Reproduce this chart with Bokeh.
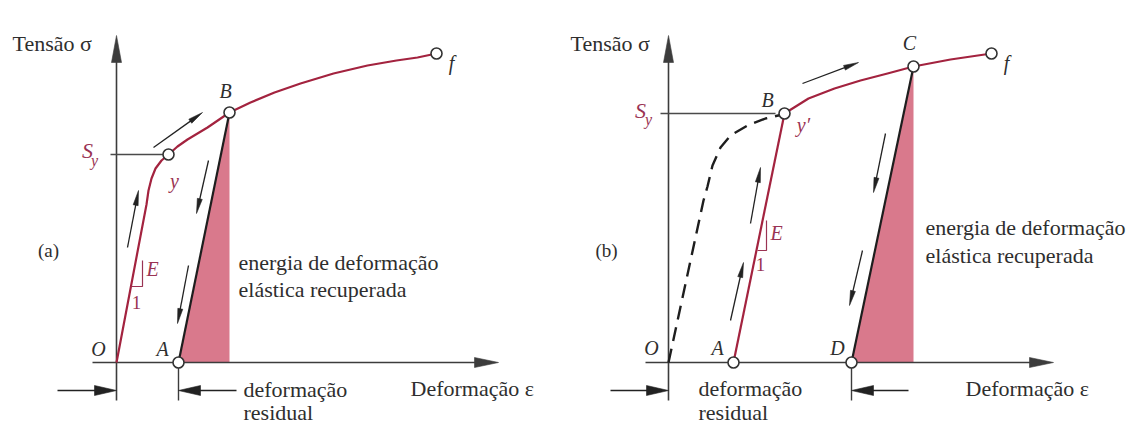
import math
from bokeh.plotting import figure
from bokeh.layouts import row
from bokeh.models import Range1d
from bokeh.core.properties import value
from bokeh.embed import file_html
from bokeh.resources import INLINE

# ---------------------------------------------------------------
# Panel (a): loading O -> y -> B, unloading B -> A
# strain / stress in arbitrary schematic units
# ---------------------------------------------------------------
a_curve_eps = [0.0, 3.0, 3.2, 3.5, 3.9, 4.5, 5.2, 6.1, 7.1, 9.1, 11.3, 13.4, 15.8, 18.4, 21.7, 25.1, 28.0, 30.1, 32.0]
a_curve_sig = [0.0, 15.8, 17.2, 18.4, 19.4, 20.2, 20.8, 21.6, 22.3, 23.5, 25.0, 26.0, 27.0, 27.9, 28.9, 29.7, 30.2, 30.5, 30.9]
a_unload_eps = [11.3, 6.2]          # B -> A
a_unload_sig = [25.0, 0.0]
a_marks_eps = [5.2, 11.3, 32.0, 6.2]  # y, B, f, A
a_marks_sig = [20.8, 25.0, 30.9, 0.0]
a_sy = 20.8
a_residual = 6.2

# ---------------------------------------------------------------
# Panel (b): reloading A -> B(y') -> C, unloading C -> D
# ---------------------------------------------------------------
b_first_eps = [0.0, 3.5, 3.9, 4.4, 5.2, 6.2, 7.9, 9.7, 11.4]   # original loading (dashed)
b_first_sig = [0.0, 16.2, 17.6, 19.7, 21.5, 22.7, 23.7, 24.4, 24.8]
b_reload_eps = [6.5, 11.6]
b_reload_sig = [0.0, 24.9]
b_curve_eps = [11.6, 14.0, 16.6, 19.2, 21.9, 24.5, 28.2, 32.3]
b_curve_sig = [24.9, 26.4, 27.4, 28.2, 28.9, 29.6, 30.3, 30.9]
b_unload_eps = [24.5, 18.3]          # C -> D
b_unload_sig = [29.6, 0.0]
b_marks_eps = [6.5, 11.6, 24.5, 32.3, 18.3]  # A, B, C, f, D
b_marks_sig = [0.0, 24.9, 29.6, 30.9, 0.0]
b_sy = 24.9
b_residual_start = 0.0
b_residual_end = 18.3

U = 10.0  # screen pixels per schematic unit
SERIF = '"Liberation Serif", "Times New Roman", Times, serif'
INK = "#2e2e2e"
AXIS = "#3c3c3c"
CURVE = "#a3233f"
FILL = "#d9798c"
LABEL_RED = "#9a3353"


def make_panel(x_start, width):
    p = figure(width=width, height=425,
               x_range=Range1d(x_start, x_start + width / U),
               y_range=Range1d(-6.3, 36.2),
               output_backend="svg", toolbar_location=None,
               min_border=0, x_axis_type=None, y_axis_type=None)
    p.grid.visible = False
    p.outline_line_color = None
    p.background_fill_color = "white"
    p.border_fill_color = "white"
    return p


def add_arrows(p, segs, head_len, head_w, lw, color):
    """segs: list of (x0, y0, x1, y1); head is drawn at (x1, y1)."""
    sx0, sy0, sx1, sy1, hx, hy = [], [], [], [], [], []
    L, W = head_len / U, head_w / U
    for x0, y0, x1, y1 in segs:
        dx, dy = x1 - x0, y1 - y0
        n = math.hypot(dx, dy)
        ux, uy = dx / n, dy / n
        bx, by = x1 - ux * L, y1 - uy * L
        sx0.append(x0); sy0.append(y0)
        sx1.append(bx + ux * L * 0.3); sy1.append(by + uy * L * 0.3)
        hx.append([x1, bx - uy * W / 2, bx + uy * W / 2])
        hy.append([y1, by + ux * W / 2, by - ux * W / 2])
    p.segment(sx0, sy0, sx1, sy1, line_color=color, line_width=lw)
    p.patches(hx, hy, fill_color=color, line_color=color, line_width=0.6)


def add_text(p, xs, ys, texts, size, color=INK, italic=False, align="left"):
    p.text(xs, ys, text=texts, text_font=value(SERIF), text_font_size=size,
           text_color=color, text_align=align, text_baseline="middle",
           text_font_style="italic" if italic else "normal")


def draw_axes(p, x_min, x_max, y_top, ticks):
    # horizontal strain axis and vertical stress axis with arrow heads
    add_arrows(p, [(x_min, 0.0, x_max, 0.0)], 24, 10, 1.6, AXIS)
    add_arrows(p, [(0.0, -3.8, 0.0, y_top)], 27, 10, 1.6, AXIS)
    # extension lines below the strain axis
    p.segment(list(ticks), [0.0] * len(ticks), list(ticks), [-3.8] * len(ticks),
              line_color=AXIS, line_width=1.4)


# ------------------------- panel (a) -------------------------
pa = make_panel(-11.6, 566)
pa.patch([a_unload_eps[1], a_unload_eps[0], a_unload_eps[0]],
         [0.0, a_unload_sig[0], 0.0], fill_color=FILL, line_color=None)
draw_axes(pa, -2.4, 38.2, 32.7, [a_residual])
pa.line([-0.6, a_marks_eps[0] - 0.5], [a_sy, a_sy], line_color="#4a4a4a", line_width=1.6)
pa.line(a_curve_eps, a_curve_sig, line_color=CURVE, line_width=2.2, line_join="round")
pa.line(a_unload_eps, a_unload_sig, line_color="#1e1e1e", line_width=2.2)
pa.line([1.5, 2.6, 2.6], [7.6, 7.6, 10.2], line_color=LABEL_RED, line_width=1.2)
add_arrows(pa, [(1.1, 11.5, 2.2, 17.2), (3.7, 21.5, 8.6, 25.0),
                (9.2, 20.2, 8.0, 14.9), (7.2, 9.7, 6.1, 3.9)], 15, 5, 1.3, "#222222")
add_arrows(pa, [(-5.9, -2.8, 0.0, -2.8), (12.0, -2.8, a_residual, -2.8)], 22, 10, 1.6, "#222222")
pa.scatter(a_marks_eps, a_marks_sig, size=11, fill_color="white", line_color="#333333", line_width=1.6)

add_text(pa, [-10.4], [31.9], ["Tensão σ"], "22px")
add_text(pa, [12.2, 12.2], [10.0, 7.3], ["energia de deformação", "elástica recuperada"], "22px")
add_text(pa, [12.7, 12.7], [-2.7, -5.0], ["deformação", "residual"], "22px")
add_text(pa, [29.4], [-2.6], ["Deformação ε"], "22px")
add_text(pa, [10.9, 33.5, -1.8, 4.6], [27.2, 30.0, 1.4, 1.4], ["B", "f", "O", "A"], "20px",
         italic=True, align="center")
add_text(pa, [-6.8], [11.2], ["(a)"], "19px", align="center")
add_text(pa, [5.8, 3.6], [18.2, 9.4], ["y", "E"], "20px", color=LABEL_RED, italic=True, align="center")
add_text(pa, [2.0], [6.0], ["1"], "19px", color=LABEL_RED, align="center")
add_text(pa, [-2.9], [21.2], ["S"], "22px", color=LABEL_RED, italic=True, align="center")
add_text(pa, [-2.2], [20.2], ["y"], "16px", color=LABEL_RED, italic=True, align="center")

# ------------------------- panel (b) -------------------------
pb = make_panel(-10.2, 567)
pb.patch([b_unload_eps[1], b_unload_eps[0], b_unload_eps[0]],
         [0.0, b_unload_sig[0], 0.0], fill_color=FILL, line_color=None)
draw_axes(pb, -2.3, 38.5, 32.7, [b_residual_end])
pb.line([-0.8, b_reload_eps[1] - 0.9], [b_sy, b_sy], line_color="#4a4a4a", line_width=1.6)
pb.line(b_first_eps, b_first_sig, line_color="#1e1e1e", line_width=2.4, line_dash="14 8")
pb.line(b_reload_eps, b_reload_sig, line_color=CURVE, line_width=2.2)
pb.line(b_curve_eps, b_curve_sig, line_color=CURVE, line_width=2.2, line_join="round")
pb.line(b_unload_eps, b_unload_sig, line_color="#1e1e1e", line_width=2.2)
pb.line([8.9, 9.8, 9.8], [11.2, 11.2, 14.2], line_color=LABEL_RED, line_width=1.2)
add_arrows(pb, [(6.2, 4.2, 7.5, 10.0), (8.2, 13.9, 9.2, 19.5), (13.4, 27.9, 19.0, 30.0),
                (21.7, 22.9, 20.5, 17.0), (19.4, 11.2, 18.1, 5.7)], 15, 5, 1.3, "#222222")
add_arrows(pb, [(-5.8, -2.8, b_residual_start, -2.8), (24.0, -2.8, b_residual_end, -2.8)],
           22, 10, 1.6, "#222222")
pb.scatter(b_marks_eps, b_marks_sig, size=11, fill_color="white", line_color="#333333", line_width=1.6)

add_text(pb, [-9.8], [31.9], ["Tensão σ"], "22px")
add_text(pb, [25.7, 25.7], [13.5, 10.7], ["energia de deformação", "elástica recuperada"], "22px")
add_text(pb, [3.0, 3.0], [-2.6, -5.0], ["deformação", "residual"], "22px")
add_text(pb, [29.7], [-2.6], ["Deformação ε"], "22px")
add_text(pb, [9.9, 24.1, 33.8, -1.7, 4.9, 16.9], [26.3, 32.0, 30.0, 1.5, 1.5, 1.5],
         ["B", "C", "f", "O", "A", "D"], "20px", italic=True, align="center")
add_text(pb, [-6.2], [11.2], ["(b)"], "19px", align="center")
add_text(pb, [13.5, 10.8], [23.8, 13.0], ["y′", "E"], "20px", color=LABEL_RED, italic=True, align="center")
add_text(pb, [9.2], [9.8], ["1"], "19px", color=LABEL_RED, align="center")
add_text(pb, [-2.8], [25.2], ["S"], "22px", color=LABEL_RED, italic=True, align="center")
add_text(pb, [-2.0], [24.3], ["y"], "16px", color=LABEL_RED, italic=True, align="center")

layout = row(pa, pb, spacing=0)
open("out.html", "w").write(file_html(layout, INLINE))
